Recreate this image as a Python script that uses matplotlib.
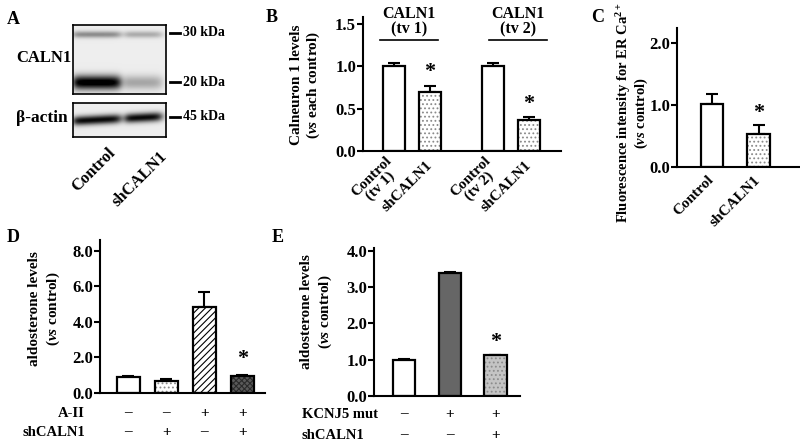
import numpy as np
import matplotlib
matplotlib.use("Agg")
import matplotlib.pyplot as plt
from matplotlib.transforms import blended_transform_factory

plt.rcParams["font.family"] = ["Liberation Serif", "DejaVu Serif"]
plt.rcParams["font.weight"] = "bold"
plt.rcParams["axes.labelweight"] = "bold"
plt.rcParams["mathtext.fontset"] = "custom"
plt.rcParams["mathtext.rm"] = "Liberation Serif:bold"
plt.rcParams["mathtext.it"] = "Liberation Serif:italic:bold"
plt.rcParams["mathtext.bf"] = "Liberation Serif:bold"
plt.rcParams["hatch.linewidth"] = 0.8

# ---- data ----
# A: western blot band strengths (0..1) per lane
blot_lanes = ["Control", "shCALN1"]
band_30kda = [0.38, 0.26]
band_20kda = [1.0, 0.28]
band_actin = [0.9, 0.9]

# B: Calneuron 1 levels (vs each control)
b_labels = ["Control\n(tv 1)", "shCALN1", "Control\n(tv 2)", "shCALN1"]
b_values = [1.0, 0.69, 1.0, 0.36]
b_errors = [0.04, 0.08, 0.04, 0.04]
b_groups = ["CALN1\n(tv 1)", "CALN1\n(tv 2)"]

# C: fluorescence intensity for ER Ca2+
c_labels = ["Control", "shCALN1"]
c_values = [1.02, 0.53]
c_errors = [0.16, 0.15]

# D: aldosterone levels, A-II / shCALN1
d_values = [0.9, 0.7, 4.85, 0.95]
d_errors = [0.07, 0.07, 0.85, 0.06]
d_aii = ["–", "–", "+", "+"]
d_sh = ["–", "+", "–", "+"]

# E: aldosterone levels, KCNJ5 mut / shCALN1
e_values = [1.0, 3.38, 1.12]
e_errors = [0.01, 0.05, 0.02]
e_kcnj5 = ["–", "+", "+"]
e_sh = ["–", "–", "+"]

W, H = 800, 448
fig = plt.figure(figsize=(8, 4.48), dpi=100)


def px_axes(left, top, right, bottom):
    return fig.add_axes([left / W, 1 - bottom / H, (right - left) / W, (bottom - top) / H])


def fig_text(x, y, s, **kw):
    fig.text(x / W, 1 - y / H, s, **kw)


def style_axes(ax, yticks, fs):
    for side in ["top", "right"]:
        ax.spines[side].set_visible(False)
    for side in ["left", "bottom"]:
        ax.spines[side].set_linewidth(1.5)
    ax.set_yticks(yticks)
    ax.set_yticklabels(["%.1f" % t for t in yticks], fontsize=fs, fontweight="bold")
    ax.tick_params(axis="y", direction="out", length=4, width=1.5, pad=1)
    ax.tick_params(axis="x", length=0)


def draw_bars(ax, x, vals, errs, styles, width):
    for xi, v, (face, hatch, hcol) in zip(x, vals, styles):
        ax.bar(xi, v, width, color=face, edgecolor=hcol, hatch=hatch, linewidth=0, zorder=2)
    ax.bar(x, vals, width, fill=False, edgecolor="black", linewidth=1.6, zorder=3)
    ax.errorbar(x, vals, yerr=[np.zeros(len(vals)), errs], fmt="none", ecolor="black",
                elinewidth=1.5, capsize=4, capthick=1.5, zorder=1)


white = ("white", None, "white")
dots = ("white", "....", "#8a8a8a")

# ---- A: blot ----
def blot_image(ax, bands, ny):
    nx = 93
    xs = np.arange(nx)[None, :]
    ys = np.arange(ny)[:, None]
    img = np.full((ny, nx), 0.07)
    lane_x = [(0, 47), (52, 88)]
    for amp, yc, sy, tilt in bands:
        for lane, a in enumerate(amp):
            x0, x1 = lane_x[lane]
            prof = 1 / (1 + np.exp(-(xs - x0) / 2.0)) / (1 + np.exp((xs - x1) / 2.5))
            yy = yc - tilt * xs
            img += a * prof * np.exp(-0.5 * ((ys - yy) / sy) ** 2)
    ax.imshow(np.clip(img, 0, 1), cmap="gray_r", vmin=0, vmax=1, aspect="auto",
              interpolation="bilinear")
    ax.set_xticks([])
    ax.set_yticks([])
    for s in ax.spines.values():
        s.set_linewidth(1.2)


ax_a1 = px_axes(73, 25, 166, 94)
blot_image(ax_a1, [(band_30kda, 9, 2.4, 0.0), (band_20kda, 57, 5.0, 0.0)], 69)
ax_a2 = px_axes(73, 103, 166, 137)
blot_image(ax_a2, [(band_actin, 17.5, 3.3, 0.05)], 34)

fig_text(13, 20, "A", fontsize=13, ha="center", va="center")
fig_text(44, 58, "CALN1", fontsize=12, ha="center", va="center")
fig_text(42, 118, "β-actin", fontsize=12.5, ha="center", va="center")
for yk, lab in [(33, "30 kDa"), (82, "20 kDa"), (117, "45 kDa")]:
    fig.add_artist(plt.Line2D([170 / W, 180 / W], [1 - yk / H, 1 - yk / H], color="black", lw=2))
    fig_text(183, yk, lab, fontsize=10, ha="left", va="center")
fig_text(107, 145, blot_lanes[0], fontsize=12, ha="right", va="top", rotation=45,
         rotation_mode="anchor")
fig_text(159, 148, blot_lanes[1], fontsize=12, ha="right", va="top", rotation=45,
         rotation_mode="anchor")

# ---- B ----
ax_b = px_axes(363, 17, 561, 151)
bx = [0, 1, 2.75, 3.75]
draw_bars(ax_b, bx, b_values, b_errors, [white, dots, white, dots], 0.62)
ax_b.set_xlim(-0.86, 4.64)
ax_b.set_ylim(0, 1.58)
style_axes(ax_b, [0, 0.5, 1.0, 1.5], 12)
ax_b.set_xticks(bx)
ax_b.set_xticklabels(b_labels, rotation=45, ha="right", va="center", rotation_mode="anchor",
                     fontsize=11, fontweight="bold", multialignment="center", linespacing=0.95)
ax_b.tick_params(axis="x", pad=9)
for gx, (l0, l1), lab in zip([0.42, 3.45], [(-0.39, 1.22), (2.64, 4.25)], b_groups):
    ax_b.text(gx, 1.53, lab, ha="center", va="center", fontsize=11.5, clip_on=False,
              linespacing=0.95)
    ax_b.plot([l0, l1], [1.31, 1.31], color="black", lw=1.2, clip_on=False)
ax_b.text(bx[1], 0.93, "*", ha="center", va="center", fontsize=16)
ax_b.text(bx[3], 0.56, "*", ha="center", va="center", fontsize=16)
fig_text(272, 18, "B", fontsize=13, ha="center", va="center")
fig_text(306, 85, "Calneuron 1 levels\n($\\mathit{vs}$ each control)", fontsize=11,
         rotation=90, ha="center", va="center", multialignment="center", linespacing=1.1)

# ---- C ----
ax_c = px_axes(677, 28, 800, 167)
cx = [0, 1]
draw_bars(ax_c, cx, c_values, c_errors, [white, dots], 0.48)
ax_c.set_xlim(-0.75, 1.89)
ax_c.set_ylim(0, 2.24)
style_axes(ax_c, [0, 1.0, 2.0], 12)
ax_c.set_xticks(cx)
ax_c.set_xticklabels(c_labels, rotation=45, ha="right", va="center", rotation_mode="anchor",
                     fontsize=11, fontweight="bold")
ax_c.tick_params(axis="x", pad=8)
ax_c.text(cx[1], 0.87, "*", ha="center", va="center", fontsize=16)
fig_text(598, 18, "C", fontsize=13, ha="center", va="center")
fig_text(632, 113, "Fluorescence intensity for ER Ca$^{2+}$\n($\\mathit{vs}$ control)",
         fontsize=10.5, rotation=90, ha="center", va="center", multialignment="center",
         linespacing=1.0)

# ---- D ----
ax_d = px_axes(100, 240, 265, 393)
dx = np.arange(len(d_values))
draw_bars(ax_d, dx, d_values, d_errors,
          [white, dots, ("white", "/////", "black"), ("#5a5a5a", "xxxxxx", "#2a2a2a")], 0.6)
ax_d.set_xlim(-0.74, 3.6)
ax_d.set_ylim(0, 8.6)
style_axes(ax_d, [0, 2.0, 4.0, 6.0, 8.0], 12)
ax_d.set_xticks([])
ax_d.text(dx[3], 1.9, "*", ha="center", va="center", fontsize=16)
tr = blended_transform_factory(ax_d.transData, fig.transFigure)
for yk, lab, signs in [(413, "A-II", d_aii), (432, "shCALN1", d_sh)]:
    fig_text(85, yk, lab, fontsize=10.5, ha="right", va="center")
    for xi, s in zip(dx, signs):
        ax_d.text(xi, 1 - yk / H, s, transform=tr, ha="center", va="center", fontsize=11)
fig_text(13, 237, "D", fontsize=13, ha="center", va="center")
fig_text(45, 309, "aldosterone levels\n($\\mathit{vs}$ control)", fontsize=11, rotation=90,
         ha="center", va="center", multialignment="center", linespacing=1.35)

# ---- E ----
ax_e = px_axes(374, 248, 520, 396)
ex = np.arange(len(e_values))
draw_bars(ax_e, ex, e_values, e_errors,
          [white, ("#666666", None, "#666666"), ("#c4c4c4", "....", "#8c8c8c")], 0.49)
ax_e.set_xlim(-0.66, 2.54)
ax_e.set_ylim(0, 4.08)
style_axes(ax_e, [0, 1.0, 2.0, 3.0, 4.0], 12)
ax_e.set_xticks([])
ax_e.text(ex[2], 1.5, "*", ha="center", va="center", fontsize=16)
tr = blended_transform_factory(ax_e.transData, fig.transFigure)
for yk, lab, signs in [(414, "KCNJ5 mut", e_kcnj5), (435, "shCALN1", e_sh)]:
    fig_text(302, yk, lab, fontsize=10.5, ha="left", va="center")
    for xi, s in zip(ex, signs):
        ax_e.text(xi, 1 - yk / H, s, transform=tr, ha="center", va="center", fontsize=11)
fig_text(278, 237, "E", fontsize=13, ha="center", va="center")
fig_text(317, 312, "aldosterone levels\n($\\mathit{vs}$ control)", fontsize=11, rotation=90,
         ha="center", va="center", multialignment="center", linespacing=1.3)

fig.savefig("out.png", dpi=100)
